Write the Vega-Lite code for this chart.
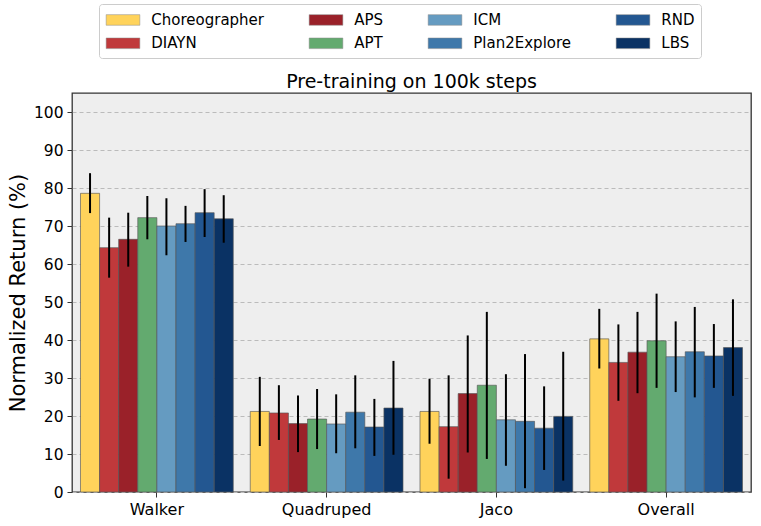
{
  "$schema": "https://vega.github.io/schema/vega-lite/v6.json",
  "description": "Grouped bars of normalized return per domain and method, with error bars.",
  "autosize": {"type": "none"},
  "padding": {"left": 72, "top": 93, "right": 9, "bottom": 34},
  "width": 679,
  "height": 399,
  "background": "white",
  "config": {
    "font": "DejaVu Sans",
    "view": {"fill": "#EEEEEE", "stroke": "#333333", "strokeWidth": 1.3},
    "axisY": {
      "titleFontSize": 21,
      "titleFontWeight": "normal",
      "titleColor": "black",
      "titlePadding": 5,
      "labelFontSize": 15.5,
      "labelColor": "black",
      "labelPadding": 4,
      "domain": false,
      "tickSize": 5,
      "tickColor": "#333333",
      "grid": true,
      "gridDash": [4, 3],
      "gridColor": "#BBBBBB",
      "gridWidth": 1
    }
  },
  "title": {
    "text": "Pre-training on 100k steps",
    "fontSize": 19,
    "fontWeight": "normal",
    "color": "black",
    "anchor": "middle",
    "frame": "group",
    "offset": 0,
    "dy": 88
  },
  "data": {
    "values": [
      {"group": "Walker", "method": "Choreographer", "value": 78.6, "lo": 73.4, "hi": 83.9},
      {"group": "Walker", "method": "DIAYN", "value": 64.3, "lo": 56.4, "hi": 72.2},
      {"group": "Walker", "method": "APS", "value": 66.5, "lo": 59.3, "hi": 73.5},
      {"group": "Walker", "method": "APT", "value": 72.2, "lo": 66.5, "hi": 77.9},
      {"group": "Walker", "method": "ICM", "value": 70.0, "lo": 62.3, "hi": 77.3},
      {"group": "Walker", "method": "Plan2Explore", "value": 70.6, "lo": 65.8, "hi": 75.3},
      {"group": "Walker", "method": "RND", "value": 73.5, "lo": 67.1, "hi": 79.7},
      {"group": "Walker", "method": "LBS", "value": 71.9, "lo": 65.6, "hi": 78.1},
      {"group": "Quadruped", "method": "Choreographer", "value": 21.2, "lo": 12.1, "hi": 30.3},
      {"group": "Quadruped", "method": "DIAYN", "value": 20.8, "lo": 13.7, "hi": 28.1},
      {"group": "Quadruped", "method": "APS", "value": 18.0, "lo": 10.5, "hi": 25.4},
      {"group": "Quadruped", "method": "APT", "value": 19.2, "lo": 11.3, "hi": 27.1},
      {"group": "Quadruped", "method": "ICM", "value": 17.9, "lo": 10.2, "hi": 25.7},
      {"group": "Quadruped", "method": "Plan2Explore", "value": 21.0, "lo": 11.5, "hi": 30.7},
      {"group": "Quadruped", "method": "RND", "value": 17.1, "lo": 9.5, "hi": 24.5},
      {"group": "Quadruped", "method": "LBS", "value": 22.1, "lo": 9.8, "hi": 34.5},
      {"group": "Jaco", "method": "Choreographer", "value": 21.2, "lo": 12.7, "hi": 29.8},
      {"group": "Jaco", "method": "DIAYN", "value": 17.2, "lo": 3.5, "hi": 30.7},
      {"group": "Jaco", "method": "APS", "value": 25.9, "lo": 10.4, "hi": 41.2},
      {"group": "Jaco", "method": "APT", "value": 28.1, "lo": 8.7, "hi": 47.4},
      {"group": "Jaco", "method": "ICM", "value": 19.0, "lo": 6.9, "hi": 31.0},
      {"group": "Jaco", "method": "Plan2Explore", "value": 18.6, "lo": 1.0, "hi": 36.3},
      {"group": "Jaco", "method": "RND", "value": 16.8, "lo": 5.8, "hi": 27.8},
      {"group": "Jaco", "method": "LBS", "value": 19.9, "lo": 3.0, "hi": 36.9},
      {"group": "Overall", "method": "Choreographer", "value": 40.3, "lo": 32.5, "hi": 48.2},
      {"group": "Overall", "method": "DIAYN", "value": 34.1, "lo": 24.0, "hi": 44.1},
      {"group": "Overall", "method": "APS", "value": 36.8, "lo": 26.0, "hi": 47.4},
      {"group": "Overall", "method": "APT", "value": 39.8, "lo": 27.4, "hi": 52.2},
      {"group": "Overall", "method": "ICM", "value": 35.6, "lo": 26.3, "hi": 44.9},
      {"group": "Overall", "method": "Plan2Explore", "value": 36.9, "lo": 24.9, "hi": 48.7},
      {"group": "Overall", "method": "RND", "value": 35.8, "lo": 27.4, "hi": 44.2},
      {"group": "Overall", "method": "LBS", "value": 38.0, "lo": 25.3, "hi": 50.7}
    ]
  },
  "encoding": {
    "x": {
      "field": "group",
      "type": "nominal",
      "sort": ["Walker", "Quadruped", "Jaco", "Overall"],
      "scale": {"paddingInner": 0.1, "paddingOuter": 0.05},
      "axis": {
        "title": null,
        "labelAngle": 0,
        "labelFontSize": 16,
        "labelColor": "black",
        "labelPadding": 4,
        "domain": false,
        "ticks": true,
        "tickSize": 5,
        "tickColor": "#333333",
        "tickWidth": 1
      }
    },
    "xOffset": {
      "field": "method",
      "type": "nominal",
      "scale": {
        "domain": ["Choreographer", "DIAYN", "APS", "APT", "ICM", "Plan2Explore", "RND", "LBS"],
        "paddingInner": 0,
        "paddingOuter": 0
      }
    }
  },
  "layer": [
    {
      "mark": {"type": "bar", "stroke": "#555555", "strokeWidth": 0.8, "strokeOpacity": 0.8},
      "encoding": {
        "y": {
          "field": "value",
          "type": "quantitative",
          "scale": {"domain": [0, 105], "nice": false},
          "axis": {
            "title": "Normalized Return (%)",
            "values": [0, 10, 20, 30, 40, 50, 60, 70, 80, 90, 100]
          }
        },
        "color": {
          "field": "method",
          "type": "nominal",
          "scale": {
            "domain": ["Choreographer", "DIAYN", "APS", "APT", "ICM", "Plan2Explore", "RND", "LBS"],
            "range": ["#FFD35B", "#C0393B", "#9A2129", "#63AA6F", "#659BC1", "#3E78AA", "#235791", "#0A3264"]
          },
          "legend": {
            "title": null,
            "orient": "none",
            "legendX": 27,
            "legendY": -89,
            "columns": 4,
            "columnPadding": 43,
            "rowPadding": 5.6,
            "labelFontSize": 15,
            "labelColor": "black",
            "labelOffset": 18.8,
            "symbolType": "M-1.87,-0.59H1.87V0.59H-1.87Z",
            "symbolSize": 324,
            "symbolOffset": 8.3,
            "symbolStrokeColor": "#888888",
            "symbolStrokeWidth": 0.5,
            "padding": 6.2,
            "strokeColor": "#CCCCCC",
            "fillColor": "white",
            "cornerRadius": 3
          }
        }
      }
    },
    {
      "mark": {"type": "rule", "color": "black", "strokeWidth": 2},
      "encoding": {
        "y": {
          "field": "lo",
          "type": "quantitative",
          "axis": {
            "title": "Normalized Return (%)",
            "values": [0, 10, 20, 30, 40, 50, 60, 70, 80, 90, 100]
          }
        },
        "y2": {"field": "hi"}
      }
    }
  ]
}
